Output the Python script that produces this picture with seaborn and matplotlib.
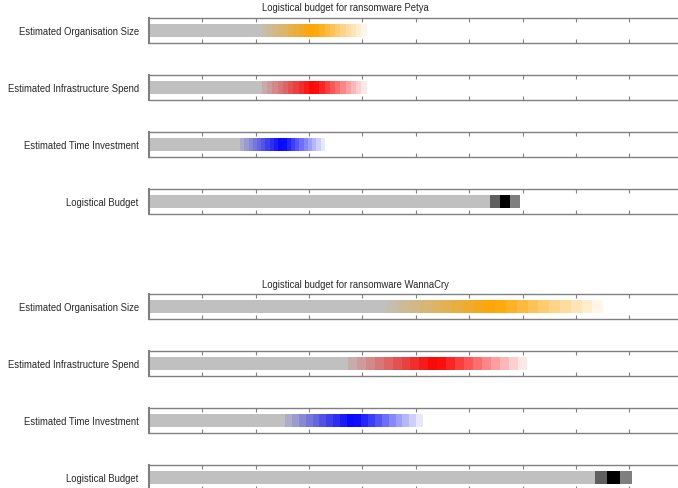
import numpy as np
import matplotlib
matplotlib.use('Agg')
import matplotlib.pyplot as plt
import seaborn as sns

sns.set_style('white')
plt.rcParams['font.family'] = ['Liberation Sans', 'DejaVu Sans']

# data
ransomware = ['Petya', 'WannaCry']
row_labels = ['Estimated Organisation Size', 'Estimated Infrastructure Spend',
              'Estimated Time Investment', 'Logistical Budget']
row_colors = ['orange', 'red', 'blue', 'black']
row_steps = [20, 20, 20, 3]

# lower / upper end of every estimate (x units)
petya_low = [2.12, 2.12, 1.71, 6.40]
petya_high = [4.08, 4.08, 3.30, 6.95]
wannacry_low = [4.47, 3.73, 2.55, 8.35]
wannacry_high = [8.51, 7.08, 5.14, 9.05]

x_ticks = [1, 2, 3, 4, 5, 6, 7, 8, 9]

lows = [petya_low, wannacry_low]
highs = [petya_high, wannacry_high]

W, H = 678, 489
fig = plt.figure(figsize=(W / 100, H / 100), dpi=100)

for g, name in enumerate(ransomware):
    fig.text(262 / W, 1 - (8 + 277.5 * g) / H, 'Logistical budget for ransomware ' + name,
             ha='left', va='center', fontsize=6.85)
    for i, label in enumerate(row_labels):
        top = 19 + 57 * i + 276 * g
        ax = fig.add_axes([148.7 / W, 1 - (top + 25.3) / H, 534 / W, 25.3 / H])
        lo, hi = lows[g][i], highs[g][i]
        mid = (lo + hi) / 2
        # grey base bar up to the most likely value
        sns.barplot(x=[mid], y=[label], orient='h', color='#c0c0c0', width=0.5,
                    linewidth=0, saturation=1, ax=ax)
        # fading blocks over the estimate range (triangular opacity)
        n = row_steps[i]
        edges = np.linspace(lo, hi, n + 1)
        k = np.arange(n)
        alphas = 1 - np.abs(k - (n - 1) / 2) / ((n + 1) / 2)
        for e, a in zip(edges[:-1], alphas):
            ax.barh(0, edges[1] - edges[0], left=e, height=0.5,
                    color=row_colors[i], alpha=a, linewidth=0)
        ax.set_xlim(0, 10)
        ax.set_ylim(0.5, -0.5)
        ax.set_xticks(x_ticks)
        ax.set_yticks([])
        ax.tick_params(axis='x', which='both', top=True, bottom=True, direction='in',
                       length=3, width=0.8, color='grey', labelbottom=False)
        ax.set_xlabel('')
        ax.set_ylabel(label, rotation=0, ha='right', va='center', fontsize=6.85)
        ax.yaxis.set_label_coords(-10 / 534, 0.5)
        ax.spines['right'].set_visible(False)
        for s in ['top', 'bottom']:
            ax.spines[s].set_color('grey')
            ax.spines[s].set_linewidth(1)
        ax.spines['left'].set_color('grey')
        ax.spines['left'].set_linewidth(1.5)

fig.savefig('out.png', dpi=100)
